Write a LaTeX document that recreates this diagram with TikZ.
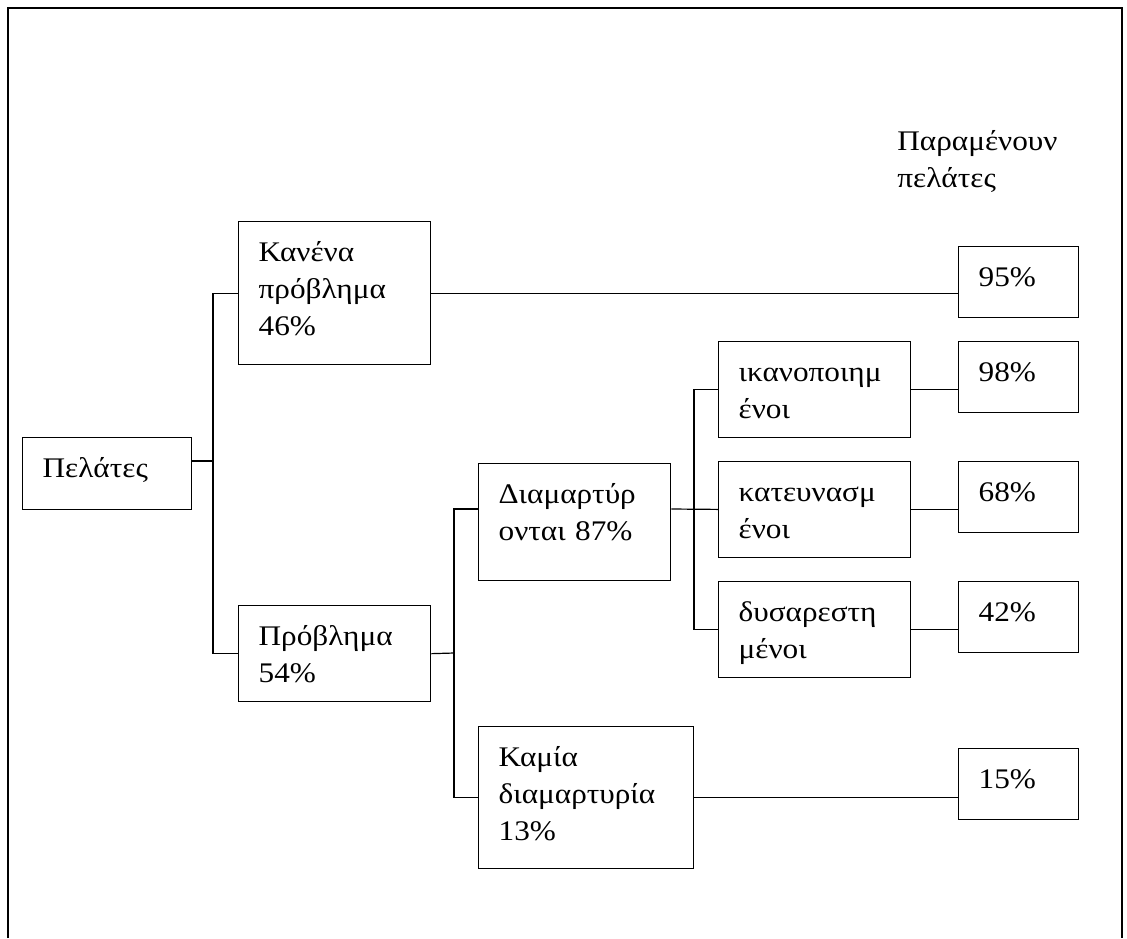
\documentclass[tikz,border=0pt]{standalone}
\usepackage{fontspec}
\setmainfont{Liberation Serif}[FakeStretch=1.1]

\tikzset{
  box/.style={draw, line width=0.65pt, anchor=north west, inner xsep=10pt,
              inner ysep=0pt, align=left, text height=20pt},
  link/.style={line width=0.6pt},
}

\begin{document}
\begin{tikzpicture}[x=0.5pt, y=-0.5pt, font=\fontsize{14.2}{18.5}\selectfont]
  \useasboundingbox (0,0) rectangle (1127,938);
  \draw[line width=1.1pt] (8,938) -- (8,8) -- (1122,8) -- (1122,938);

  \node[box, text width=64.5pt, text depth=16pt] (pel) at (22,437) {Πελάτες};
  \node[box, text width=76pt, text depth=51.5pt] (kan) at (238,221)
    {Κανένα\\πρόβλημα\\46\%};
  \node[box, text width=76pt, text depth=28pt] (prob) at (238,605)
    {Πρόβλημα\\54\%};
  \node[box, text width=76pt, text depth=38.5pt] (diam) at (478,463)
    {Διαμαρτύρ\\ονται 87\%};
  \node[box, text width=87.5pt, text depth=51pt] (kam) at (478,726)
    {Καμία\\διαμαρτυρία\\13\%};

  \foreach \nm/\ypos/\txt in {ikan/341/{ικανοποιημ\\ένοι},
                              kat/461/{κατευνασμ\\ένοι},
                              dys/581/{δυσαρεστη\\μένοι}}
    \node[box, text width=76pt, text depth=27.75pt] (\nm) at (718,\ypos) {\txt};

  \foreach \nm/\ypos/\val in {r95/246/95, r98/341/98, r68/461/68, r42/581/42, r15/748/15}
    \node[box, text width=40pt, text depth=15.5pt] (\nm) at (958,\ypos) {\val\%};

  \node[anchor=north west, inner sep=0pt, align=left, text height=20pt] (head)
    at (897,147) {Παραμένουν\\πελάτες};

  % branch points
  \coordinate (j1) at (213,461);
  \coordinate (j2) at (454,653);
  \coordinate (j3) at (694,509);

  \draw[link] (pel.east |- j1) -- (j1);
  \draw[link] (kan.west) -| (j1) |- (prob.west);
  \draw[link] (prob.east) -- (j2);
  \draw[link] (diam.west |- j3) -| (j2) |- (kam.west);
  \draw[link] (diam.east |- j3) -- (kat.west);
  \draw[link] (ikan.west) -| (j3) |- (dys.west);
  \foreach \a/\b in {kan/r95, ikan/r98, kat/r68, dys/r42, kam/r15}
    \draw[link] (\a.east) -- (\a.east -| \b.west);
\end{tikzpicture}
\end{document}
